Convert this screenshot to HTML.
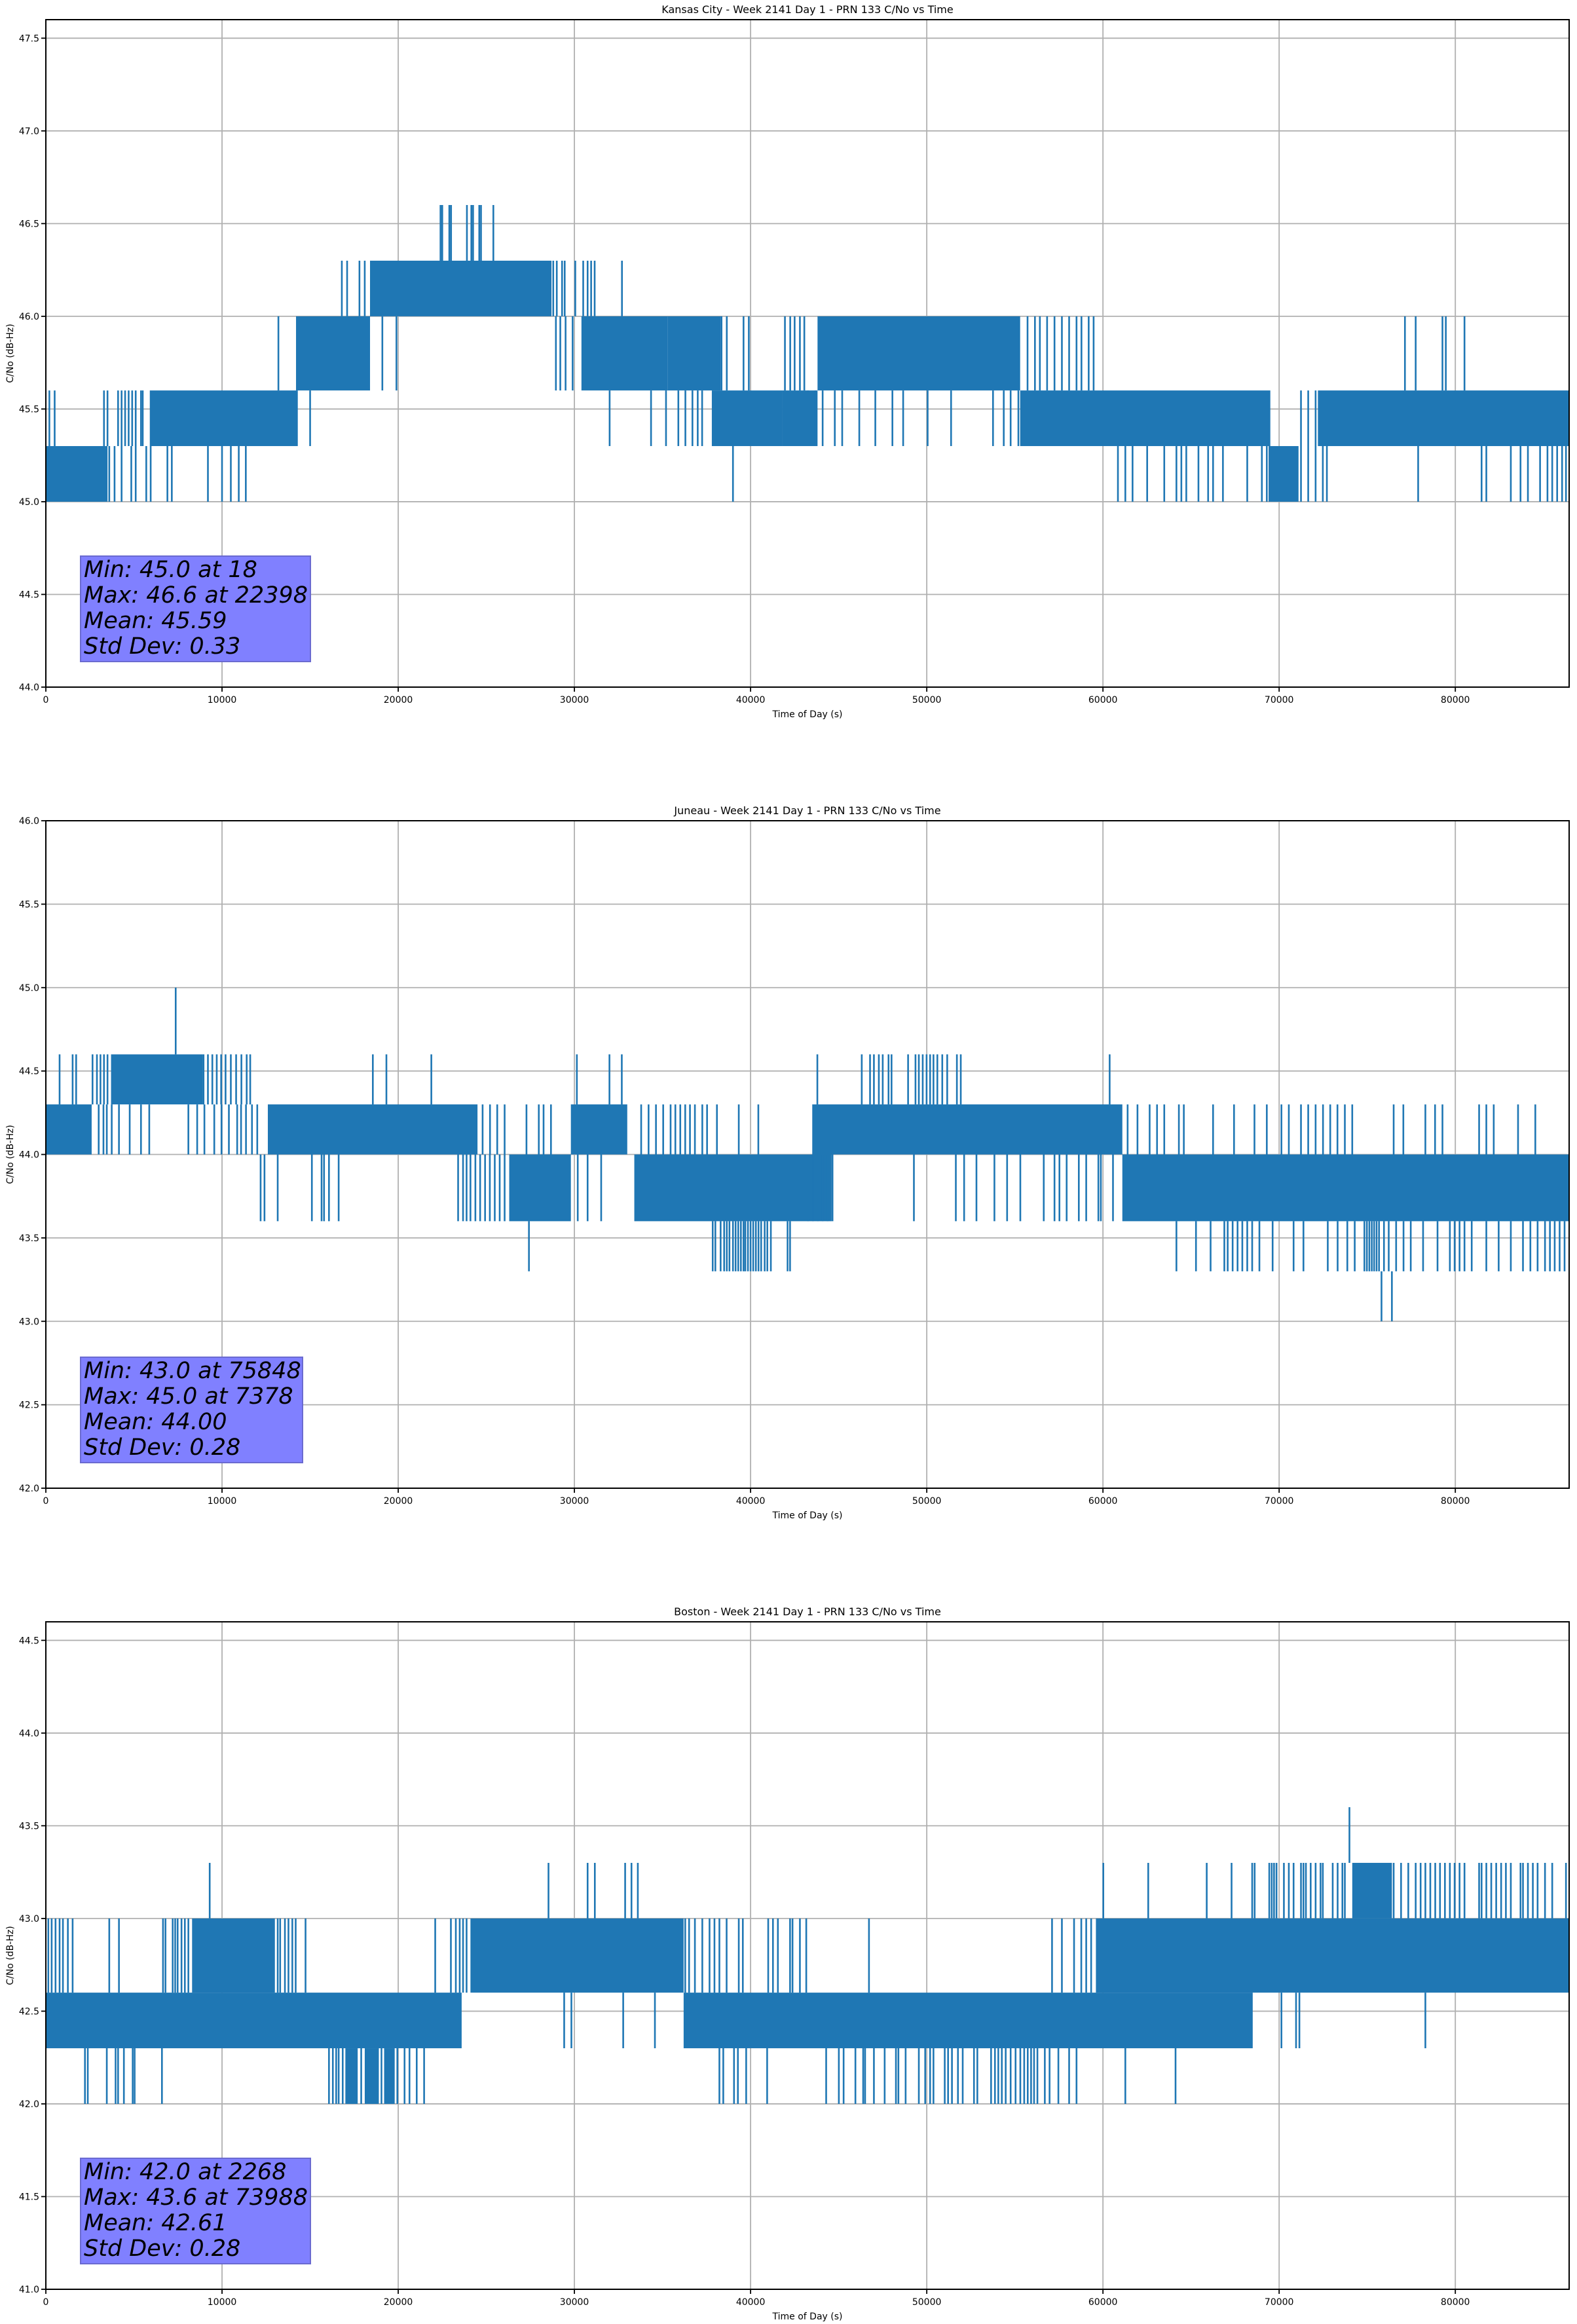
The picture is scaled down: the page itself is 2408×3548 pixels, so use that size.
<!DOCTYPE html>
<html><head><meta charset="utf-8">
<style>
html,body{margin:0;padding:0;background:#fff;}
svg{display:block;font-family:"DejaVu Sans","Liberation Sans",sans-serif;}
</style></head>
<body>
<svg id="fig" width="2408" height="3548" viewBox="0 0 2408 3548" xmlns="http://www.w3.org/2000/svg"></svg>
<script>
// ---------- shared axis data ----------
const xTicks = [0,10000,20000,30000,40000,50000,60000,70000,80000];
const xMax = 86460;

// ---------- Kansas City ----------
const kcTitle = "Kansas City - Week 2141 Day 1 - PRN 133 C/No vs Time";
const kcYRange = [44.0, 47.6];
const kcYTicks = [44.0,44.5,45.0,45.5,46.0,46.5,47.0,47.5];
const kcBands = [
 [0,3500,45.0,45.3],[5900,14300,45.3,45.6],[14200,18400,45.6,46.0],[18400,28700,46.0,46.3],
 [30400,35300,45.6,46.0],[35300,38300,45.6,46.0],[37800,41800,45.3,45.6],[41800,43800,45.3,45.6],
 [43800,55300,45.6,46.0],[55300,58600,45.3,45.6],[58600,69500,45.3,45.6],[69400,71100,45.0,45.3],
 [72200,86460,45.3,45.6]
];
const kcSpikes = [
 [200,45.3,45.6],[500,45.3,45.6],
 [3300,45.3,45.6],[3500,45.3,45.6],[4100,45.3,45.6],[4300,45.3,45.6],[4500,45.3,45.6],[4700,45.3,45.6],[4900,45.3,45.6],[5100,45.3,45.6],[5400,45.3,45.6],[5500,45.3,45.6],
 [3600,45.0,45.3],[3900,45.0,45.3],[4300,45.0,45.3],[4850,45.0,45.3],[5100,45.0,45.3],[5700,45.0,45.3],[5950,45.0,45.3],[6900,45.0,45.3],[7150,45.0,45.3],[9200,45.0,45.3],[10000,45.0,45.3],[10500,45.0,45.3],[10950,45.0,45.3],[11350,45.0,45.3],
 [13200,45.6,46.0],[15000,45.3,45.6],[19100,45.6,46.0],[19900,45.6,46.0],
 [16800,46.0,46.3],[17100,46.0,46.3],[17800,46.0,46.3],[18100,46.0,46.3],
 [22400,46.3,46.6],[22500,46.3,46.6],[22900,46.3,46.6],[23000,46.3,46.6],[23900,46.3,46.6],[24150,46.3,46.6],[24250,46.3,46.6],[24600,46.3,46.6],[24700,46.3,46.6],[25400,46.3,46.6],
 [28800,46.0,46.3],[29000,46.0,46.3],[29300,46.0,46.3],[29450,46.0,46.3],[30050,46.0,46.3],[30500,46.0,46.3],[30750,46.0,46.3],[30950,46.0,46.3],[31150,46.0,46.3],[32700,46.0,46.3],
 [28950,45.6,46.0],[29200,45.6,46.0],[29500,45.6,46.0],[29900,45.6,46.0],
 [32000,45.3,45.6],[34350,45.3,45.6],[35200,45.3,45.6],[35900,45.3,45.6],[36300,45.3,45.6],[36700,45.3,45.6],[37000,45.3,45.6],[37250,45.3,45.6],
 [38350,45.6,46.0],[38650,45.6,46.0],[39600,45.6,46.0],[39900,45.6,46.0],[41950,45.6,46.0],[42250,45.6,46.0],[42500,45.6,46.0],[42800,45.6,46.0],[43050,45.6,46.0],
 [39000,45.0,45.3],
 [43260,45.3,45.6],[43680,45.3,45.6],[44090,45.3,45.6],[44780,45.3,45.6],[45200,45.3,45.6],[46170,45.3,45.6],[47080,45.3,45.6],[48050,45.3,45.6],[48660,45.3,45.6],[50050,45.3,45.6],[51380,45.3,45.6],[53760,45.3,45.6],[54370,45.3,45.6],[54760,45.3,45.6],[55200,45.3,45.6],
 [55720,45.6,46.0],[56140,45.6,46.0],[56420,45.6,46.0],[56830,45.6,46.0],[57250,45.6,46.0],[57670,45.6,46.0],[58080,45.6,46.0],[58500,45.6,46.0],[58780,45.6,46.0],[59190,45.6,46.0],[59470,45.6,46.0],
 [77140,45.6,46.0],[77750,45.6,46.0],[79270,45.6,46.0],[79460,45.6,46.0],[80520,45.6,46.0],
 [60850,45.0,45.3],[61270,45.0,45.3],[61680,45.0,45.3],[62510,45.0,45.3],[63480,45.0,45.3],[64170,45.0,45.3],[64450,45.0,45.3],[64730,45.0,45.3],[65420,45.0,45.3],[65970,45.0,45.3],[66250,45.0,45.3],[66810,45.0,45.3],[68190,45.0,45.3],[69020,45.0,45.3],[69300,45.0,45.3],
 [71240,45.0,45.6],[71650,45.0,45.6],[72070,45.0,45.6],[72480,45.0,45.3],[72710,45.0,45.3],
 [77890,45.0,45.3],[81490,45.0,45.3],[81760,45.0,45.3],[83150,45.0,45.3],[83700,45.0,45.3],[84120,45.0,45.3],[84810,45.0,45.3],[85230,45.0,45.3],[85500,45.0,45.3],[85780,45.0,45.3],[86060,45.0,45.3],[86280,45.0,45.3]
];
const kcStats = ["Min: 45.0 at 18","Max: 46.6 at 22398","Mean: 45.59","Std Dev: 0.33"];

// ---------- Juneau ----------
const juTitle = "Juneau - Week 2141 Day 1 - PRN 133 C/No vs Time";
const juYRange = [42.0, 46.0];
const juYTicks = [42.0,42.5,43.0,43.5,44.0,44.5,45.0,45.5,46.0];
const juBands = [
 [0,2600,44.0,44.3],[3700,8900,44.3,44.6],[12600,24500,44.0,44.3],[26300,29800,43.6,44.0],
 [29800,33000,44.0,44.3],[33400,44600,43.6,44.0],[43500,61100,44.0,44.3],
 [61100,86460,43.6,44.0]
];
const juSpikes = [
 [780,44.3,44.6],[1520,44.3,44.6],[1720,44.3,44.6],
 [2650,44.3,44.6],[2900,44.3,44.6],[3100,44.3,44.6],[3300,44.3,44.6],[3500,44.3,44.6],
 [8950,44.3,44.6],[9200,44.3,44.6],[9450,44.3,44.6],[9700,44.3,44.6],[9950,44.3,44.6],[10200,44.3,44.6],[10500,44.3,44.6],[10800,44.3,44.6],[11100,44.3,44.6],[11400,44.3,44.6],[11600,44.3,44.6],
 [7370,44.6,45.0],
 [3000,44.0,44.3],[3270,44.0,44.3],[3460,44.0,44.3],[3740,44.0,44.3],[4150,44.0,44.3],[4760,44.0,44.3],[5400,44.0,44.3],[5870,44.0,44.3],[8090,44.0,44.3],[8590,44.0,44.3],[9000,44.0,44.3],[9560,44.0,44.3],[9970,44.0,44.3],[10390,44.0,44.3],[10860,44.0,44.3],[11080,44.0,44.3],[11360,44.0,44.3],[11700,44.0,44.3],[12000,44.0,44.3],
 [12190,43.6,44.0],[12410,43.6,44.0],[13160,43.6,44.0],[15100,43.6,44.0],[15650,43.6,44.0],[15790,43.6,44.0],[16070,43.6,44.0],[16620,43.6,44.0],
 [18560,44.3,44.6],[19330,44.3,44.6],[21880,44.3,44.6],
 [23400,43.6,44.0],[23680,43.6,44.0],[23880,43.6,44.0],[24100,43.6,44.0],[24380,43.6,44.0],[24650,43.6,44.0],[24930,43.6,44.0],[25200,43.6,44.0],[25480,43.6,44.0],[25760,43.6,44.0],[26040,43.6,44.0],
 [24790,44.0,44.3],[25210,44.0,44.3],[25620,44.0,44.3],[26040,44.0,44.3],[27280,44.0,44.3],[27980,44.0,44.3],[28250,44.0,44.3],[28670,44.0,44.3],
 [27420,43.3,43.6],
 [30140,44.3,44.6],[31990,44.3,44.6],[32690,44.3,44.6],
 [30190,43.6,44.0],[30750,43.6,44.0],[31520,43.6,44.0],
 [33790,44.0,44.3],[34210,44.0,44.3],[34630,44.0,44.3],[35040,44.0,44.3],[35460,44.0,44.3],[35730,44.0,44.3],[36010,44.0,44.3],[36290,44.0,44.3],[36560,44.0,44.3],[36840,44.0,44.3],[37260,44.0,44.3],[37530,44.0,44.3],[38090,44.0,44.3],[39330,44.0,44.3],[40440,44.0,44.3],
 [37850,43.3,43.6],[38000,43.3,43.6],[38300,43.3,43.6],[38500,43.3,43.6],[38650,43.3,43.6],[38800,43.3,43.6],[39000,43.3,43.6],[39150,43.3,43.6],[39300,43.3,43.6],[39450,43.3,43.6],[39600,43.3,43.6],[39700,43.3,43.6],[39850,43.3,43.6],[40000,43.3,43.6],[40150,43.3,43.6],[40300,43.3,43.6],[40450,43.3,43.6],[40600,43.3,43.6],[40800,43.3,43.6],[40950,43.3,43.6],[41150,43.3,43.6],
 [42100,43.3,43.6],[42240,43.3,43.6],
 [43790,44.3,44.6],[46310,44.3,44.6],[46780,44.3,44.6],[47000,44.3,44.6],[47280,44.3,44.6],[47500,44.3,44.6],[47830,44.3,44.6],[48000,44.3,44.6],[48940,44.3,44.6],[49360,44.3,44.6],[49550,44.3,44.6],[49770,44.3,44.6],[49990,44.3,44.6],[50190,44.3,44.6],[50380,44.3,44.6],[50600,44.3,44.6],[50880,44.3,44.6],[51160,44.3,44.6],[51710,44.3,44.6],[51930,44.3,44.6],[60380,44.3,44.6],
 [43260,43.6,44.0],[43540,43.6,44.0],[43820,43.6,44.0],[44090,43.6,44.0],[44370,43.6,44.0],[44650,43.6,44.0],[49270,43.6,44.0],[51650,43.6,44.0],[52120,43.6,44.0],[52820,43.6,44.0],[53840,43.6,44.0],[54560,43.6,44.0],[55310,43.6,44.0],[56640,43.6,44.0],[57250,43.6,44.0],[57530,43.6,44.0],[57940,43.6,44.0],[58630,43.6,44.0],[59050,43.6,44.0],[59740,43.6,44.0],[59880,43.6,44.0],[60570,43.6,44.0],
 [61400,44.0,44.3],[61960,44.0,44.3],[62650,44.0,44.3],[63070,44.0,44.3],[63480,44.0,44.3],[64310,44.0,44.3],[64590,44.0,44.3],[66250,44.0,44.3],[67440,44.0,44.3],[68600,44.0,44.3],[69300,44.0,44.3],[70130,44.0,44.3],[70550,44.0,44.3],[71240,44.0,44.3],[71650,44.0,44.3],[72070,44.0,44.3],[72490,44.0,44.3],[72900,44.0,44.3],[73310,44.0,44.3],[73730,44.0,44.3],[74150,44.0,44.3],[76500,44.0,44.3],[77050,44.0,44.3],[78300,44.0,44.3],[78850,44.0,44.3],[79270,44.0,44.3],[81350,44.0,44.3],[81760,44.0,44.3],[82180,44.0,44.3],[83560,44.0,44.3],[84540,44.0,44.3],
 [64170,43.3,43.6],[65280,43.3,43.6],[66110,43.3,43.6],[66890,43.3,43.6],[67080,43.3,43.6],[67360,43.3,43.6],[67640,43.3,43.6],[67910,43.3,43.6],[68190,43.3,43.6],[68470,43.3,43.6],[68880,43.3,43.6],[69630,43.3,43.6],[70820,43.3,43.6],[71380,43.3,43.6],[72760,43.3,43.6],[73320,43.3,43.6],[73870,43.3,43.6],[74290,43.3,43.6],[74840,43.3,43.6],[74980,43.3,43.6],[75120,43.3,43.6],[75260,43.3,43.6],[75390,43.3,43.6],[75530,43.3,43.6],[75670,43.3,43.6],[75950,43.3,43.6],[76220,43.3,43.6],[76640,43.3,43.6],[77060,43.3,43.6],[77470,43.3,43.6],[78170,43.3,43.6],[78990,43.3,43.6],[79690,43.3,43.6],[79960,43.3,43.6],[80240,43.3,43.6],[80520,43.3,43.6],[80930,43.3,43.6],[81760,43.3,43.6],[82460,43.3,43.6],[83150,43.3,43.6],[83840,43.3,43.6],[84260,43.3,43.6],[84670,43.3,43.6],[85090,43.3,43.6],[85370,43.3,43.6],[85640,43.3,43.6],[85920,43.3,43.6],[86200,43.3,43.6],
 [75810,43.0,43.3],[76400,43.0,43.3]
];
const juStats = ["Min: 43.0 at 75848","Max: 45.0 at 7378","Mean: 44.00","Std Dev: 0.28"];

// ---------- Boston ----------
const boTitle = "Boston - Week 2141 Day 1 - PRN 133 C/No vs Time";
const boYRange = [41.0, 44.6];
const boYTicks = [41.0,41.5,42.0,42.5,43.0,43.5,44.0,44.5];
const boBands = [
 [0,23600,42.3,42.6],[8300,13000,42.6,43.0],[17000,17700,42.0,42.3],[18100,18900,42.0,42.3],[19200,19800,42.0,42.3],[24100,36200,42.6,43.0],
 [36200,68500,42.3,42.6],[59600,86460,42.6,43.0],[74150,76400,43.0,43.3]
];
const boSpikes = [
 [140,42.6,43.0],[330,42.6,43.0],[550,42.6,43.0],[780,42.6,43.0],[970,42.6,43.0],[1250,42.6,43.0],[1520,42.6,43.0],[3600,42.6,43.0],[4150,42.6,43.0],
 [6650,42.6,43.0],[6790,42.6,43.0],[7200,42.6,43.0],[7340,42.6,43.0],[7480,42.6,43.0],[7700,42.6,43.0],[7890,42.6,43.0],[8090,42.6,43.0],
 [13160,42.6,43.0],[13300,42.6,43.0],[13570,42.6,43.0],[13770,42.6,43.0],[13990,42.6,43.0],[14180,42.6,43.0],[14740,42.6,43.0],
 [9300,43.0,43.3],
 [2220,42.0,42.3],[2380,42.0,42.3],[3460,42.0,42.3],[3960,42.0,42.3],[4100,42.0,42.3],[4430,42.0,42.3],[4930,42.0,42.3],[5040,42.0,42.3],[6590,42.0,42.3],
 [16070,42.0,42.3],[16290,42.0,42.3],[16480,42.0,42.3],[16620,42.0,42.3],[16850,42.0,42.3],[17900,42.0,42.3],[19050,42.0,42.3],[19950,42.0,42.3],[20360,42.0,42.3],[20640,42.0,42.3],[21050,42.0,42.3],[21470,42.0,42.3],
 [22100,42.6,43.0],[22990,42.6,43.0],[23270,42.6,43.0],[23490,42.6,43.0],[23680,42.6,43.0],[23880,42.6,43.0],
 [28530,43.0,43.3],[30750,43.0,43.3],[31160,43.0,43.3],[32880,43.0,43.3],[33240,43.0,43.3],[33600,43.0,43.3],
 [29420,42.3,42.6],[29830,42.3,42.6],[32770,42.3,42.6],[34570,42.3,42.6],
 [36290,42.6,43.0],[36510,42.6,43.0],[36840,42.6,43.0],[37260,42.6,43.0],[37670,42.6,43.0],[37950,42.6,43.0],[38230,42.6,43.0],[38640,42.6,43.0],[39330,42.6,43.0],[39560,42.6,43.0],[41000,42.6,43.0],[41270,42.6,43.0],[41550,42.6,43.0],[42240,42.6,43.0],[42380,42.6,43.0],[42800,42.6,43.0],[43160,42.6,43.0],
 [38230,42.0,42.3],[38450,42.0,42.3],[39060,42.0,42.3],[39280,42.0,42.3],[39750,42.0,42.3],[40940,42.0,42.3],
 [46720,42.6,43.0],[57110,42.6,43.0],[57670,42.6,43.0],[58360,42.6,43.0],[58770,42.6,43.0],[59050,42.6,43.0],[59330,42.6,43.0],
 [44290,42.0,42.3],[45010,42.0,42.3],[45280,42.0,42.3],[45950,42.0,42.3],[46390,42.0,42.3],[46500,42.0,42.3],[47000,42.0,42.3],[47610,42.0,42.3],[48250,42.0,42.3],[48390,42.0,42.3],[48800,42.0,42.3],[49550,42.0,42.3],[49910,42.0,42.3],[50190,42.0,42.3],[50380,42.0,42.3],[51020,42.0,42.3],[51210,42.0,42.3],[51430,42.0,42.3],[51770,42.0,42.3],[52040,42.0,42.3],[52680,42.0,42.3],[52870,42.0,42.3],[53650,42.0,42.3],[53870,42.0,42.3],[54060,42.0,42.3],[54260,42.0,42.3],[54480,42.0,42.3],[54760,42.0,42.3],[55040,42.0,42.3],[55310,42.0,42.3],[55530,42.0,42.3],[55730,42.0,42.3],[55920,42.0,42.3],[56090,42.0,42.3],[56280,42.0,42.3],[56700,42.0,42.3],[56970,42.0,42.3],[57470,42.0,42.3],[58080,42.0,42.3],[58500,42.0,42.3],[61270,42.0,42.3],[64120,42.0,42.3],
 [70130,42.3,42.6],[70960,42.3,42.6],[71150,42.3,42.6],[78300,42.3,42.6],
 [60020,43.0,43.3],[62570,43.0,43.3],[65890,43.0,43.3],[67300,43.0,43.3],[68470,43.0,43.3],[68610,43.0,43.3],[69440,43.0,43.3],[69580,43.0,43.3],[69710,43.0,43.3],[69850,43.0,43.3],[70270,43.0,43.3],[70550,43.0,43.3],[70820,43.0,43.3],[71240,43.0,43.3],[71380,43.0,43.3],[71520,43.0,43.3],[71790,43.0,43.3],[72070,43.0,43.3],[72350,43.0,43.3],[72480,43.0,43.3],[73040,43.0,43.3],[73320,43.0,43.3],[73590,43.0,43.3],[73730,43.0,43.3],[76500,43.0,43.3],[76920,43.0,43.3],[77330,43.0,43.3],[77750,43.0,43.3],[78030,43.0,43.3],[78300,43.0,43.3],[78580,43.0,43.3],[78860,43.0,43.3],[79130,43.0,43.3],[79410,43.0,43.3],[79690,43.0,43.3],[79960,43.0,43.3],[80240,43.0,43.3],[80520,43.0,43.3],[81350,43.0,43.3],[81490,43.0,43.3],[81760,43.0,43.3],[82040,43.0,43.3],[82320,43.0,43.3],[82600,43.0,43.3],[82870,43.0,43.3],[83150,43.0,43.3],[83700,43.0,43.3],[83840,43.0,43.3],[84120,43.0,43.3],[84400,43.0,43.3],[84670,43.0,43.3],[85090,43.0,43.3],[85500,43.0,43.3],[86280,43.0,43.3],
 [73990,43.3,43.6]
];
const boStats = ["Min: 42.0 at 2268","Max: 43.6 at 73988","Mean: 42.61","Std Dev: 0.28"];

// ---------- rendering ----------
const NS = "http://www.w3.org/2000/svg";
const svg = document.getElementById("fig");
const L = 70, R = 2396, H = 1019;
const BLUE = "#1f77b4";
function mk(tag, attrs, parent){
  const e = document.createElementNS(NS, tag);
  for (const k in attrs) e.setAttribute(k, attrs[k]);
  (parent||svg).appendChild(e);
  return e;
}
function drawPanel(idx, key, title, yRange, yTicks, bands, spikes, stats, boxW){
  const top = 30 + idx*1223, bottom = top + H;
  const g = mk("g", {});
  
  
  const xs = t => L + (t / xMax) * (R - L);
  const ys = v => bottom - (v - yRange[0]) / (yRange[1] - yRange[0]) * H;
  xTicks.forEach(t => {
    const l = mk("line", {x1:xs(t), x2:xs(t), y1:top, y2:bottom, stroke:"#b0b0b0", "stroke-width":1.8}, g);
    
    
  });
  yTicks.forEach(v => {
    const l = mk("line", {x1:L, x2:R, y1:ys(v), y2:ys(v), stroke:"#b0b0b0", "stroke-width":1.8}, g);
    
    
  });
  const clipId = "clip" + idx;
  const cp = mk("clipPath", {id: clipId}, g);
  mk("rect", {x:L, y:top, width:R-L, height:H}, cp);
  const dg = mk("g", {"clip-path":"url(#"+clipId+")"}, g);
  
  
  bands.forEach(b => {
    const r = mk("rect", {x:xs(b[0]), y:ys(b[3]), width:Math.max(1, xs(b[1])-xs(b[0])), height:ys(b[2])-ys(b[3]), fill:BLUE}, dg);
    
    
  });
  spikes.forEach(s => {
    const l = mk("line", {x1:xs(s[0]), x2:xs(s[0]), y1:ys(s[1]), y2:ys(s[2]), stroke:BLUE, "stroke-width":2.6}, dg);
    
    
  });
  const bx = 123, bh = 161, by = bottom - 39 - bh;
  const box = mk("rect", {x:bx, y:by, width:boxW, height:bh, fill:"#8080ff", stroke:"#6a6ad0", "stroke-width":2}, g);
  
  
  stats.forEach((s, i) => {
    const t = mk("text", {x:bx+5, y:by+32+i*39, "font-size":35, "font-style":"italic", fill:"#000"}, g);
    t.textContent = s;
    
    
  });
  const sp = mk("rect", {x:L, y:top, width:R-L, height:H, fill:"none", stroke:"#000", "stroke-width":2}, g);
  
  
  xTicks.forEach(t => {
    mk("line", {x1:xs(t), x2:xs(t), y1:bottom, y2:bottom+7, stroke:"#000", "stroke-width":1.8}, g);
    const tx = mk("text", {x:xs(t), y:bottom+24, "font-size":14, "text-anchor":"middle", fill:"#000"}, g);
    tx.textContent = String(t);
    
    
  });
  yTicks.forEach(v => {
    mk("line", {x1:L-7, x2:L, y1:ys(v), y2:ys(v), stroke:"#000", "stroke-width":1.8}, g);
    const tx = mk("text", {x:L-10, y:ys(v)+5, "font-size":14, "text-anchor":"end", fill:"#000"}, g);
    tx.textContent = v.toFixed(1);
    
    
  });
  const tt = mk("text", {x:(L+R)/2, y:top-10, "font-size":16, "text-anchor":"middle", fill:"#000"}, g);
  tt.textContent = title;
  
  
  const xl = mk("text", {x:(L+R)/2, y:bottom+46, "font-size":14, "text-anchor":"middle", fill:"#000"}, g);
  xl.textContent = "Time of Day (s)";
  
  
  const cy = (top+bottom)/2;
  const yl = mk("text", {x:20, y:cy, "font-size":14, "text-anchor":"middle", fill:"#000", transform:"rotate(-90 20 "+cy+")"}, g);
  yl.textContent = "C/No (dB-Hz)";
  
  
}
drawPanel(0, "kansas-city", kcTitle, kcYRange, kcYTicks, kcBands, kcSpikes, kcStats, 351);
drawPanel(1, "juneau", juTitle, juYRange, juYTicks, juBands, juSpikes, juStats, 339);
drawPanel(2, "boston", boTitle, boYRange, boYTicks, boBands, boSpikes, boStats, 351);
</script>
</body></html>
